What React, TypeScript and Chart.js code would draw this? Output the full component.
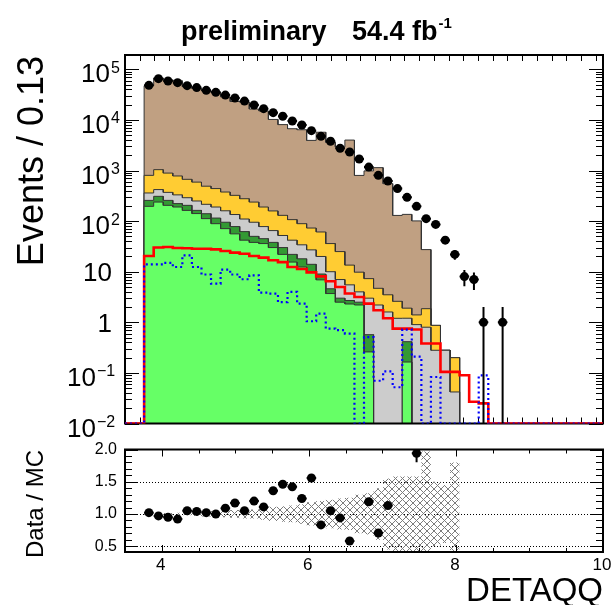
import React, { useEffect, useRef } from "react";
import { Chart, registerables } from "chart.js";

Chart.register(...registerables);

// Binning of DETAQQ: 50 bins of width 0.13 between 3.5 and 10
const X_MIN = 3.5;
const X_MAX = 10;
const BIN_WIDTH = 0.13;
const N_BINS = 50;
const Y_MIN = 0.01;
const Y_MAX = 1.92e5;

// Observed events per bin
const dataCounts = [
  0, 0, 48300, 65500, 58800, 54600, 47600, 43500, 38500, 35100,
  31000, 27100, 23600, 19700, 16700, 13900, 11800, 9520, 7940, 6140,
  4740, 3780, 2750, 2320, 1690, 1170, 803, 621, 439, 295,
  196, 112, 86, 42, 22, 8, 7, 1, 0, 1,
  0, 0, 0, 0, 0, 0, 0, 0, 0, 0,
];

// Background components (stacked from bottom to top)
const bkgLightGreen = [
  0, 0, 196, 238, 205, 190, 163, 141, 112, 89,
  71, 56, 42, 38, 36, 30, 22, 15.5, 12.4, 9.8,
  6.9, 3.7, 2.5, 2.3, 2.2, 0.26, 0, 0, 0, 0.164,
  0, 0, 0, 0, 0, 0, 0, 0, 0, 0,
  0, 0, 0, 0, 0, 0, 0, 0, 0, 0,
];
const bkgDarkGreen = [
  0, 0, 61, 71, 52, 32, 42, 22, 28, 26,
  24, 22, 20, 12, 9, 8, 8, 6.5, 5.6, 4.2,
  2.1, 0.9, 0.5, 0.4, 0.3, 0.31, 0, 0, 0, 0.25,
  0, 0, 0, 0, 0, 0, 0, 0, 0, 0,
  0, 0, 0, 0, 0, 0, 0, 0, 0, 0,
];
const bkgGray = [
  0, 0, 103, 111, 113, 108, 85, 87, 75, 75,
  65, 57, 48, 45, 33, 27, 22, 20, 16, 13,
  11, 5.4, 4, 2.8, 1.5, 2.43, 2.2, 1.6, 1.2, 0.79,
  0.9, 0.8, 0.28, 0.28, 0.042, 0, 0, 0, 0, 0,
  0, 0, 0, 0, 0, 0, 0, 0, 0, 0,
];
const bkgYellow = [
  0, 0, 443, 620, 520, 450, 380, 340, 275, 250,
  216, 188, 167, 143, 112, 94, 78, 65, 55, 46,
  41, 26, 18, 8, 5.8, 4.3, 2.5, 1.9, 1.4, 0.7,
  0.5, 1.06, 0.59, 0, 0.158, 0, 0, 0, 0, 0,
  0, 0, 0, 0, 0, 0, 0, 0, 0, 0,
];
const bkgBrown = [
  0, 0, 46547, 66460, 61010, 58570, 44660, 41240, 37260, 34660,
  28064, 22837, 22203, 16182, 14860, 10061, 7950, 6593, 6311, 3867,
  5649, 3564, 2905, 3986, 790, 976, 1135, 546, 127, 134,
  99.6, 25.5, 0, 0, 0, 0, 0, 0, 0, 0,
  0, 0, 0, 0, 0, 0, 0, 0, 0, 0,
];

// Signal shapes (not stacked)
const signalRed = [
  0, 0, 20.4, 30, 30.7, 29.5, 29, 28.5, 28.5, 27.7,
  25.7, 23.8, 22.7, 20.4, 19, 16.8, 15.5, 12.4, 11.3, 9.7,
  8.1, 6.5, 5, 3.7, 3.16, 2.34, 1.73, 1.2, 0.75, 0.75,
  0.72, 0.38, 0.38, 0.105, 0.105, 0.09, 0.027, 0.025, 0, 0,
  0, 0, 0, 0, 0, 0, 0, 0, 0, 0,
];
const signalBlue = [
  0, 0, 14, 14, 15, 12.4, 21, 12.4, 8.8, 5.8,
  11, 8.8, 7.1, 8.5, 3.86, 3.7, 2.5, 4.0, 2.34, 1.05,
  1.48, 0.75, 0.7, 0.6, 0, 0.51, 0.07, 0.107, 0.052, 0.72,
  0.21, 0, 0.083, 0, 0, 0, 0, 0.089, 0, 0,
  0, 0, 0, 0, 0, 0, 0, 0, 0, 0,
];

// Relative uncertainty of the total background
const mcRelUnc = [
  0, 0, 0.015, 0.015, 0.015, 0.02, 0.02, 0.03, 0.04, 0.05,
  0.05, 0.06, 0.07, 0.07, 0.09, 0.11, 0.12, 0.13, 0.15, 0.18,
  0.2, 0.22, 0.24, 0.25, 0.3, 0.32, 0.4, 0.55, 0.58, 0.58,
  0.58, 0.97, 0.5, 0.45, 0.8, 0, 0, 0, 0, 0,
  0, 0, 0, 0, 0, 0, 0, 0, 0, 0,
];

// Axis labels
const yTickExponents = [-2, -1, 0, 1, 2, 3, 4, 5];
const ratioTickLabels = [0.5, 1.0, 1.5, 2.0];
const xTickLabels = [4, 6, 8, 10];

const FONT = '"Liberation Sans", Arial, Helvetica, sans-serif';
const COLORS = {
  lightGreen: "#66ff66",
  darkGreen: "#339933",
  gray: "#cccccc",
  yellow: "#ffcc33",
  brown: "#c0a082",
};

const edges = Array.from({ length: N_BINS + 1 }, (_, i) => X_MIN + i * BIN_WIDTH);
const centers = Array.from({ length: N_BINS }, (_, i) => X_MIN + (i + 0.5) * BIN_WIDTH);

// Histogram outline: every bin contributes its left and right edge at its content.
// Empty bins sit on the axis floor (a log axis cannot show zero).
function histPoints(values: number[]) {
  const pts: { x: number; y: number }[] = [];
  for (let i = 0; i < N_BINS; i++) {
    const y = values[i] > Y_MIN ? values[i] : Y_MIN;
    pts.push({ x: edges[i], y }, { x: edges[i + 1], y });
  }
  return pts;
}

const layers = [bkgLightGreen, bkgDarkGreen, bkgGray, bkgYellow, bkgBrown];
const cumulative: number[][] = [];
layers.forEach((vals, j) => {
  cumulative.push(vals.map((v, i) => v + (j > 0 ? cumulative[j - 1][i] : 0)));
});
const mcTotal = cumulative[cumulative.length - 1];

// Edges of the background uncertainty band, broken where there is no background
function bandPoints(sign: number) {
  const pts: { x: number; y: number }[] = [];
  for (let i = 0; i < N_BINS; i++) {
    if (mcTotal[i] > 0) {
      const y = 1 + sign * mcRelUnc[i];
      pts.push({ x: edges[i], y }, { x: edges[i + 1], y });
    } else {
      pts.push({ x: centers[i], y: NaN });
    }
  }
  return pts;
}

function makeHatch(): CanvasPattern | string {
  const s = 7;
  const c = document.createElement("canvas");
  c.width = s;
  c.height = s;
  const g = c.getContext("2d");
  if (!g) return "#999";
  g.strokeStyle = "#7c7c7c";
  g.lineWidth = 1;
  g.beginPath();
  g.moveTo(-1, -1);
  g.lineTo(s + 1, s + 1);
  g.moveTo(s + 1, -1);
  g.lineTo(-1, s + 1);
  g.stroke();
  return g.createPattern(c, "repeat") || "#999";
}

function drawFrame(chart: any) {
  const { ctx, chartArea: a } = chart;
  ctx.save();
  ctx.strokeStyle = "#000";
  ctx.lineWidth = 2;
  ctx.strokeRect(a.left, a.top, a.right - a.left, a.bottom - a.top);
  ctx.restore();
}

function drawXTicks(chart: any, step: number, majorEvery: number, majorLen: number, minorLen: number) {
  const { ctx, chartArea: a, scales } = chart;
  const xs = scales.x;
  ctx.save();
  ctx.strokeStyle = "#000";
  ctx.lineWidth = 1;
  ctx.beginPath();
  const n = Math.round((X_MAX - X_MIN) / step);
  for (let k = 0; k <= n; k++) {
    const v = X_MIN + k * step;
    if (v <= X_MIN + 1e-6 || v >= X_MAX - 1e-6) continue;
    const major = Math.abs(v / majorEvery - Math.round(v / majorEvery)) < 1e-6;
    const len = major ? majorLen : minorLen;
    const px = Math.round(xs.getPixelForValue(v)) + 0.5;
    ctx.moveTo(px, a.bottom);
    ctx.lineTo(px, a.bottom - len);
    ctx.moveTo(px, a.top);
    ctx.lineTo(px, a.top + len);
  }
  ctx.stroke();
  ctx.restore();
}

function drawErrorBars(chart: any, pts: { x: number; y: number; e: number }[]) {
  const { ctx, chartArea: a, scales } = chart;
  const xs = scales.x;
  const ys = scales.y;
  ctx.save();
  ctx.beginPath();
  ctx.rect(a.left, a.top, a.right - a.left, a.bottom - a.top);
  ctx.clip();
  ctx.strokeStyle = "#000";
  ctx.lineWidth = 2;
  ctx.beginPath();
  pts.forEach((p) => {
    const px = xs.getPixelForValue(p.x);
    const lo = p.y - p.e;
    ctx.moveTo(px, lo > 0 ? ys.getPixelForValue(lo) : a.bottom);
    ctx.lineTo(px, ys.getPixelForValue(p.y + p.e));
    const py = ys.getPixelForValue(p.y);
    ctx.moveTo(xs.getPixelForValue(p.x - BIN_WIDTH / 2), py);
    ctx.lineTo(xs.getPixelForValue(p.x + BIN_WIDTH / 2), py);
  });
  ctx.stroke();
  ctx.restore();
}

const dataPoints = centers
  .map((x, i) => ({ x, y: dataCounts[i], e: Math.sqrt(dataCounts[i]) }))
  .filter((p) => p.y > 0);

const ratioPoints = centers
  .map((x, i) => ({
    x,
    y: mcTotal[i] > 0 ? dataCounts[i] / mcTotal[i] : NaN,
    e: mcTotal[i] > 0 ? Math.sqrt(dataCounts[i]) / mcTotal[i] : 0,
  }))
  .filter((p) => isFinite(p.y) && p.y > 0);

const topDecor = {
  id: "topDecor",
  beforeDatasetsDraw(chart: any) {
    const { ctx, chartArea: a, scales } = chart;
    const ys = scales.y;
    ctx.save();
    ctx.strokeStyle = "#000";
    ctx.lineWidth = 1;
    ctx.beginPath();
    for (let e = -2; e <= 5; e++) {
      for (let m = 1; m <= 9; m++) {
        const v = m * Math.pow(10, e);
        if (v < ys.min || v > ys.max) continue;
        const py = Math.round(ys.getPixelForValue(v)) + 0.5;
        const len = m === 1 ? 14 : 7;
        ctx.moveTo(a.left, py);
        ctx.lineTo(a.left + len, py);
        ctx.moveTo(a.right, py);
        ctx.lineTo(a.right - len, py);
      }
    }
    ctx.stroke();
    ctx.restore();
    drawXTicks(chart, 0.2, 1, 12, 6);
  },
  afterDatasetDraw(chart: any, args: any) {
    if (args.index === 3) drawFrame(chart);
  },
  afterDatasetsDraw(chart: any) {
    const { ctx, scales } = chart;
    const ys = scales.y;
    drawErrorBars(chart, dataPoints);
    ctx.save();
    ctx.fillStyle = "#000";
    ctx.textBaseline = "alphabetic";
    yTickExponents.forEach((e) => {
      const py = ys.getPixelForValue(Math.pow(10, e));
      ctx.font = `26px ${FONT}`;
      ctx.textAlign = "right";
      if (e === 0) {
        ctx.fillText("1", 112, py + 9.3);
      } else if (e === 1) {
        ctx.fillText("10", 112, py + 9.3);
      } else if (e > 1) {
        ctx.fillText("10", 110, py + 13);
        ctx.font = `16px ${FONT}`;
        ctx.textAlign = "left";
        ctx.fillText(String(e), 111, py + 3.5);
      } else {
        ctx.fillText("10", 96, py + 13);
        ctx.font = `16px ${FONT}`;
        ctx.textAlign = "left";
        ctx.fillText("\u2212" + String(-e), 97, py + 3.5);
      }
    });

    // Title with luminosity
    ctx.textAlign = "left";
    ctx.font = `bold 27px ${FONT}`;
    ctx.fillText("preliminary", 181, 40);
    ctx.fillText("54.4 fb", 352, 40);
    const w = ctx.measureText("54.4 fb").width;
    ctx.font = `bold 15px ${FONT}`;
    ctx.fillText("-1", 352 + w + 1, 28);

    // Vertical axis title
    ctx.save();
    ctx.translate(43, 56);
    ctx.rotate(-Math.PI / 2);
    ctx.font = `36px ${FONT}`;
    ctx.textAlign = "right";
    ctx.fillText("Events / 0.13", 0, 0);
    ctx.restore();
    ctx.restore();
  },
};

const ratioDecor = {
  id: "ratioDecor",
  beforeDatasetsDraw(chart: any) {
    const { ctx, chartArea: a, scales } = chart;
    const ys = scales.y;
    ctx.save();
    ctx.strokeStyle = "#000";
    ctx.lineWidth = 1;
    ctx.setLineDash([1, 2]);
    ctx.beginPath();
    [0.5, 1.0, 1.5].forEach((v) => {
      const py = Math.round(ys.getPixelForValue(v)) + 0.5;
      ctx.moveTo(a.left, py);
      ctx.lineTo(a.right, py);
    });
    ctx.stroke();
    ctx.restore();
  },
  afterDatasetsDraw(chart: any) {
    const { ctx, chartArea: a, scales } = chart;
    const xs = scales.x;
    const ys = scales.y;
    drawErrorBars(chart, ratioPoints);

    ctx.save();
    ctx.strokeStyle = "#000";
    ctx.lineWidth = 1;
    ctx.beginPath();
    for (let k = 5; k <= 20; k++) {
      const v = k / 10;
      const py = Math.round(ys.getPixelForValue(v)) + 0.5;
      const len = k % 5 === 0 ? 13 : 7;
      ctx.moveTo(a.left, py);
      ctx.lineTo(a.left + len, py);
      ctx.moveTo(a.right, py);
      ctx.lineTo(a.right - len, py);
    }
    ctx.stroke();
    ctx.restore();
    drawXTicks(chart, 0.5, 2, 7, 4);
    drawFrame(chart);

    ctx.save();
    ctx.fillStyle = "#000";
    ctx.font = `16px ${FONT}`;
    ctx.textAlign = "right";
    ctx.textBaseline = "middle";
    ratioTickLabels.forEach((v) => {
      ctx.fillText(v.toFixed(1), 117, ys.getPixelForValue(v));
    });
    ctx.font = `17px ${FONT}`;
    ctx.textAlign = "center";
    ctx.textBaseline = "alphabetic";
    xTickLabels.forEach((v) => {
      ctx.fillText(String(v), xs.getPixelForValue(v) - 1, 130);
    });
    ctx.font = `33px ${FONT}`;
    ctx.textAlign = "right";
    ctx.fillText("DETAQQ", 603, 161);

    ctx.translate(43, 10);
    ctx.rotate(-Math.PI / 2);
    ctx.font = `24px ${FONT}`;
    ctx.textAlign = "right";
    ctx.fillText("Data / MC", 0, 0);
    ctx.restore();
  },
};

export default function App() {
  const topRef = useRef<HTMLCanvasElement>(null);
  const botRef = useRef<HTMLCanvasElement>(null);

  useEffect(() => {
    if (!topRef.current || !botRef.current) return;
    const hatch = makeHatch();

    const layerColors = [COLORS.lightGreen, COLORS.darkGreen, COLORS.gray, COLORS.yellow, COLORS.brown];
    // light green sits at dataset index 3 and is painted last of the stack
    const stackSets = cumulative.map((vals, j) => ({
      data: histPoints(vals),
      backgroundColor: layerColors[j],
      borderColor: "#333",
      borderWidth: 1,
      fill: "start",
      pointRadius: 0,
    }));

    const top = new Chart(topRef.current, {
      type: "line",
      data: {
        datasets: [
          {
            data: dataPoints.map((p) => ({ x: p.x, y: p.y })),
            showLine: false,
            pointRadius: 4.5,
            pointBackgroundColor: "#000",
            pointBorderWidth: 0,
          } as any,
          {
            data: histPoints(signalBlue),
            borderColor: "#0000ff",
            borderWidth: 2.2,
            borderDash: [2, 3],
            fill: false,
            pointRadius: 0,
          },
          {
            data: histPoints(signalRed),
            borderColor: "#ff0000",
            borderWidth: 2.6,
            fill: false,
            pointRadius: 0,
          },
          ...stackSets,
        ],
      },
      options: {
        animation: false,
        responsive: false,
        devicePixelRatio: 1,
        events: [],
        layout: { padding: { left: 125, right: 13, top: 55, bottom: 16.5 } },
        plugins: { legend: { display: false }, tooltip: { enabled: false } },
        scales: {
          x: { type: "linear", min: X_MIN, max: X_MAX, display: false, bounds: "data" },
          y: { type: "logarithmic", min: Y_MIN, max: Y_MAX, display: false, bounds: "data" },
        },
      },
      plugins: [topDecor],
    });

    const bottom = new Chart(botRef.current, {
      type: "line",
      data: {
        datasets: [
          {
            data: ratioPoints.map((p) => ({ x: p.x, y: p.y })),
            showLine: false,
            pointRadius: 4.5,
            pointBackgroundColor: "#000",
            pointBorderWidth: 0,
            clip: 0,
          } as any,
          {
            data: bandPoints(1),
            borderWidth: 0,
            borderColor: "rgba(0,0,0,0)",
            backgroundColor: hatch,
            fill: "+1",
            pointRadius: 0,
            spanGaps: false,
          },
          {
            data: bandPoints(-1),
            borderWidth: 0,
            borderColor: "rgba(0,0,0,0)",
            fill: false,
            pointRadius: 0,
            spanGaps: false,
          },
        ],
      },
      options: {
        animation: false,
        responsive: false,
        devicePixelRatio: 1,
        events: [],
        layout: { padding: { left: 125, right: 13, top: 9.5, bottom: 53 } },
        plugins: { legend: { display: false }, tooltip: { enabled: false } },
        scales: {
          x: { type: "linear", min: X_MIN, max: X_MAX, display: false, bounds: "data" },
          y: { type: "linear", min: 0.41, max: 2.0, display: false, bounds: "data" },
        },
      },
      plugins: [ratioDecor],
    });

    return () => {
      top.destroy();
      bottom.destroy();
    };
  }, []);

  return (
    <div style={{ position: "absolute", left: 0, top: 0, width: 616, height: 605, background: "#fff" }}>
      <canvas ref={topRef} width={616} height={440} style={{ position: "absolute", left: 0, top: 0 }} />
      <canvas ref={botRef} width={616} height={165} style={{ position: "absolute", left: 0, top: 440 }} />
    </div>
  );
}
